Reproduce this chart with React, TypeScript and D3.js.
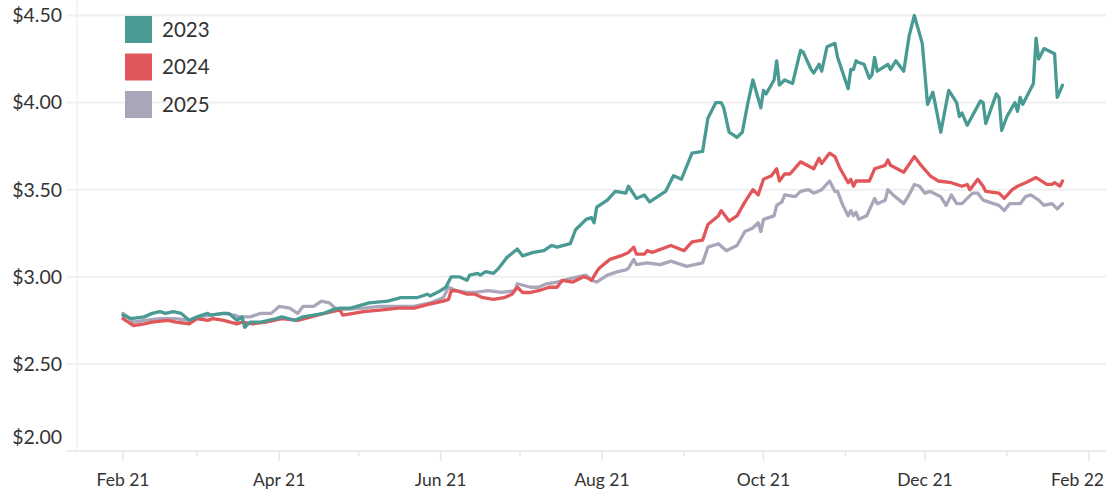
import React from "react";
import * as d3 from "d3";

// values: [date, price]
const series2023: [string, number][] = [
  ["2021-02-01", 2.78], ["2021-02-04", 2.76], ["2021-02-09", 2.77], ["2021-02-12", 2.79], ["2021-02-15", 2.8],
  ["2021-02-17", 2.79], ["2021-02-20", 2.8], ["2021-02-23", 2.79], ["2021-02-26", 2.75], ["2021-03-01", 2.77], ["2021-03-05", 2.79],
  ["2021-03-06", 2.78], ["2021-03-11", 2.79], ["2021-03-13", 2.79], ["2021-03-16", 2.75], ["2021-03-18", 2.77],
  ["2021-03-19", 2.71], ["2021-03-21", 2.74], ["2021-03-25", 2.74], ["2021-03-31", 2.76], ["2021-04-02", 2.77],
  ["2021-04-07", 2.75], ["2021-04-10", 2.77], ["2021-04-18", 2.79], ["2021-04-21", 2.81], ["2021-04-24", 2.82],
  ["2021-04-28", 2.82], ["2021-05-05", 2.85], ["2021-05-12", 2.86], ["2021-05-17", 2.88], ["2021-05-23", 2.88],
  ["2021-05-27", 2.9], ["2021-05-28", 2.89], ["2021-06-01", 2.92], ["2021-06-03", 2.94], ["2021-06-05", 3.0],
  ["2021-06-08", 3.0], ["2021-06-11", 2.98], ["2021-06-12", 3.01], ["2021-06-15", 3.02], ["2021-06-16", 3.01],
  ["2021-06-18", 3.03], ["2021-06-21", 3.02], ["2021-06-23", 3.05], ["2021-06-26", 3.11], ["2021-06-30", 3.16],
  ["2021-07-02", 3.12], ["2021-07-06", 3.14], ["2021-07-10", 3.15], ["2021-07-13", 3.18], ["2021-07-15", 3.17],
  ["2021-07-20", 3.19], ["2021-07-22", 3.27], ["2021-07-26", 3.33], ["2021-07-28", 3.34], ["2021-07-29", 3.31],
  ["2021-07-30", 3.4], ["2021-08-03", 3.44], ["2021-08-06", 3.49], ["2021-08-10", 3.48], ["2021-08-11", 3.52],
  ["2021-08-14", 3.45], ["2021-08-17", 3.47], ["2021-08-19", 3.43], ["2021-08-20", 3.44], ["2021-08-25", 3.49],
  ["2021-08-28", 3.58], ["2021-08-31", 3.56], ["2021-09-04", 3.71], ["2021-09-08", 3.72], ["2021-09-10", 3.91],
  ["2021-09-13", 4.0], ["2021-09-15", 4.0], ["2021-09-16", 3.97], ["2021-09-18", 3.83], ["2021-09-21", 3.8],
  ["2021-09-23", 3.83], ["2021-09-25", 3.99], ["2021-09-27", 4.13], ["2021-09-30", 3.97], ["2021-10-01", 4.07],
  ["2021-10-02", 4.05], ["2021-10-05", 4.13], ["2021-10-06", 4.24], ["2021-10-07", 4.1], ["2021-10-09", 4.13],
  ["2021-10-12", 4.11], ["2021-10-15", 4.3], ["2021-10-16", 4.29], ["2021-10-19", 4.19], ["2021-10-20", 4.17],
  ["2021-10-22", 4.22], ["2021-10-23", 4.18], ["2021-10-25", 4.32], ["2021-10-28", 4.34], ["2021-10-29", 4.26],
  ["2021-11-02", 4.08], ["2021-11-03", 4.19], ["2021-11-04", 4.19], ["2021-11-05", 4.24], ["2021-11-06", 4.23],
  ["2021-11-08", 4.22], ["2021-11-10", 4.14], ["2021-11-11", 4.16], ["2021-11-12", 4.26], ["2021-11-13", 4.18],
  ["2021-11-17", 4.22], ["2021-11-18", 4.19], ["2021-11-20", 4.24], ["2021-11-23", 4.18], ["2021-11-25", 4.38],
  ["2021-11-27", 4.5], ["2021-11-30", 4.34], ["2021-12-02", 3.99], ["2021-12-04", 4.06], ["2021-12-07", 3.83],
  ["2021-12-10", 4.07], ["2021-12-13", 4.0], ["2021-12-14", 3.92], ["2021-12-15", 3.94], ["2021-12-17", 3.87],
  ["2021-12-22", 4.01], ["2021-12-23", 4.0], ["2021-12-24", 3.88], ["2021-12-28", 4.05], ["2021-12-29", 4.03],
  ["2021-12-30", 3.84], ["2022-01-01", 3.92], ["2022-01-04", 4.0], ["2022-01-05", 3.95], ["2022-01-06", 4.03],
  ["2022-01-07", 3.99], ["2022-01-11", 4.11], ["2022-01-12", 4.37], ["2022-01-13", 4.25], ["2022-01-15", 4.31],
  ["2022-01-19", 4.28], ["2022-01-20", 4.03], ["2022-01-22", 4.1],
];

const series2024: [string, number][] = [
  ["2021-02-01", 2.76], ["2021-02-05", 2.72], ["2021-02-09", 2.73], ["2021-02-12", 2.74], ["2021-02-18", 2.75],
  ["2021-02-21", 2.74], ["2021-02-26", 2.73], ["2021-03-01", 2.76], ["2021-03-05", 2.75], ["2021-03-07", 2.76],
  ["2021-03-11", 2.75], ["2021-03-16", 2.73], ["2021-03-18", 2.74], ["2021-03-22", 2.73], ["2021-03-27", 2.74],
  ["2021-04-02", 2.76], ["2021-04-08", 2.75], ["2021-04-13", 2.77], ["2021-04-18", 2.79], ["2021-04-24", 2.81],
  ["2021-04-25", 2.78], ["2021-05-03", 2.8], ["2021-05-10", 2.81], ["2021-05-16", 2.82], ["2021-05-22", 2.82],
  ["2021-05-27", 2.84], ["2021-06-02", 2.86], ["2021-06-04", 2.87], ["2021-06-05", 2.92], ["2021-06-07", 2.92],
  ["2021-06-11", 2.9], ["2021-06-14", 2.9], ["2021-06-17", 2.88], ["2021-06-21", 2.87], ["2021-06-25", 2.88],
  ["2021-06-28", 2.9], ["2021-06-30", 2.94], ["2021-07-02", 2.91], ["2021-07-05", 2.91], ["2021-07-08", 2.92],
  ["2021-07-12", 2.94], ["2021-07-15", 2.94], ["2021-07-17", 2.98], ["2021-07-21", 2.97], ["2021-07-25", 3.0],
  ["2021-07-27", 2.99], ["2021-07-28", 2.98], ["2021-07-30", 3.03], ["2021-07-31", 3.05], ["2021-08-04", 3.1],
  ["2021-08-08", 3.12], ["2021-08-11", 3.14], ["2021-08-13", 3.17], ["2021-08-14", 3.13], ["2021-08-17", 3.13],
  ["2021-08-18", 3.15], ["2021-08-20", 3.14], ["2021-08-27", 3.18], ["2021-09-01", 3.15], ["2021-09-04", 3.2],
  ["2021-09-08", 3.21], ["2021-09-10", 3.3], ["2021-09-14", 3.35], ["2021-09-15", 3.38], ["2021-09-18", 3.32],
  ["2021-09-21", 3.35], ["2021-09-24", 3.43], ["2021-09-27", 3.5], ["2021-09-29", 3.47], ["2021-10-01", 3.56],
  ["2021-10-04", 3.58], ["2021-10-06", 3.62], ["2021-10-07", 3.55], ["2021-10-09", 3.59], ["2021-10-11", 3.59],
  ["2021-10-15", 3.66], ["2021-10-20", 3.62], ["2021-10-22", 3.68], ["2021-10-23", 3.65], ["2021-10-26", 3.71],
  ["2021-10-28", 3.69], ["2021-10-30", 3.62], ["2021-11-02", 3.54], ["2021-11-03", 3.56], ["2021-11-04", 3.52],
  ["2021-11-05", 3.55], ["2021-11-10", 3.55], ["2021-11-12", 3.62], ["2021-11-16", 3.64], ["2021-11-17", 3.67],
  ["2021-11-18", 3.64], ["2021-11-23", 3.6], ["2021-11-27", 3.69], ["2021-11-29", 3.65], ["2021-12-03", 3.58],
  ["2021-12-06", 3.55], ["2021-12-11", 3.54], ["2021-12-15", 3.52], ["2021-12-17", 3.53], ["2021-12-18", 3.5],
  ["2021-12-21", 3.56], ["2021-12-23", 3.52], ["2021-12-24", 3.49], ["2021-12-29", 3.48], ["2021-12-31", 3.45],
  ["2022-01-03", 3.5], ["2022-01-05", 3.52], ["2022-01-08", 3.54], ["2022-01-12", 3.57], ["2022-01-14", 3.55],
  ["2022-01-16", 3.53], ["2022-01-18", 3.53], ["2022-01-19", 3.54], ["2022-01-21", 3.52], ["2022-01-22", 3.55],
];

const series2025: [string, number][] = [
  ["2021-02-01", 2.79], ["2021-02-05", 2.74], ["2021-02-09", 2.75], ["2021-02-15", 2.76], ["2021-02-21", 2.76],
  ["2021-02-26", 2.75], ["2021-03-02", 2.77], ["2021-03-06", 2.78], ["2021-03-11", 2.79], ["2021-03-15", 2.78],
  ["2021-03-17", 2.77], ["2021-03-21", 2.77], ["2021-03-25", 2.79], ["2021-03-29", 2.79], ["2021-04-01", 2.83],
  ["2021-04-05", 2.82], ["2021-04-08", 2.79], ["2021-04-10", 2.83], ["2021-04-14", 2.83], ["2021-04-17", 2.86],
  ["2021-04-20", 2.85], ["2021-04-23", 2.81], ["2021-05-03", 2.82], ["2021-05-09", 2.83], ["2021-05-22", 2.83],
  ["2021-05-28", 2.85], ["2021-06-02", 2.88], ["2021-06-04", 2.94], ["2021-06-07", 2.92], ["2021-06-11", 2.91],
  ["2021-06-14", 2.91], ["2021-06-19", 2.92], ["2021-06-24", 2.91], ["2021-06-29", 2.92], ["2021-06-30", 2.96],
  ["2021-07-05", 2.94], ["2021-07-08", 2.94], ["2021-07-11", 2.96], ["2021-07-15", 2.97], ["2021-07-20", 2.99],
  ["2021-07-26", 3.01], ["2021-07-28", 2.98], ["2021-07-30", 2.97], ["2021-08-03", 3.01], ["2021-08-07", 3.03],
  ["2021-08-10", 3.04], ["2021-08-11", 3.05], ["2021-08-13", 3.1], ["2021-08-14", 3.07], ["2021-08-18", 3.08],
  ["2021-08-23", 3.07], ["2021-08-27", 3.09], ["2021-09-02", 3.06], ["2021-09-08", 3.08], ["2021-09-10", 3.17],
  ["2021-09-14", 3.19], ["2021-09-17", 3.15], ["2021-09-21", 3.18], ["2021-09-24", 3.26], ["2021-09-27", 3.28],
  ["2021-09-29", 3.31], ["2021-09-30", 3.26], ["2021-10-01", 3.33], ["2021-10-05", 3.35], ["2021-10-06", 3.41],
  ["2021-10-08", 3.43], ["2021-10-09", 3.47], ["2021-10-13", 3.46], ["2021-10-15", 3.49], ["2021-10-18", 3.5],
  ["2021-10-20", 3.48], ["2021-10-23", 3.5], ["2021-10-26", 3.55], ["2021-10-28", 3.49], ["2021-10-29", 3.49],
  ["2021-10-31", 3.41], ["2021-11-02", 3.35], ["2021-11-03", 3.38], ["2021-11-04", 3.35], ["2021-11-05", 3.37],
  ["2021-11-06", 3.33], ["2021-11-09", 3.35], ["2021-11-12", 3.45], ["2021-11-13", 3.42], ["2021-11-16", 3.44],
  ["2021-11-17", 3.5], ["2021-11-19", 3.47], ["2021-11-23", 3.42], ["2021-11-25", 3.47], ["2021-11-27", 3.53],
  ["2021-11-29", 3.52], ["2021-12-01", 3.48], ["2021-12-03", 3.49], ["2021-12-07", 3.46], ["2021-12-09", 3.41],
  ["2021-12-11", 3.47], ["2021-12-13", 3.42], ["2021-12-15", 3.42], ["2021-12-19", 3.48], ["2021-12-21", 3.48],
  ["2021-12-23", 3.44], ["2021-12-29", 3.41], ["2021-12-31", 3.38], ["2022-01-02", 3.42], ["2022-01-06", 3.42],
  ["2022-01-08", 3.46], ["2022-01-10", 3.47], ["2022-01-13", 3.44], ["2022-01-15", 3.41], ["2022-01-18", 3.42],
  ["2022-01-20", 3.39], ["2022-01-22", 3.42],
];

const legendNames = ["2023", "2024", "2025"];
const legendColors = ["#4a9a94", "#e15759", "#a9a6ba"];
const yTicks = [2, 2.5, 3, 3.5, 4, 4.5];

const W = 1106;
const H = 493;
const parse = d3.timeParse("%Y-%m-%d");

export default function App() {
  const x = d3
    .scaleTime()
    .domain([new Date(2021, 1, 1), new Date(2022, 1, 1)])
    .range([123, 1089]);
  const y = d3.scaleLinear().domain([2, 4.5]).range([451, 15.5]);

  const line = d3
    .line<[string, number]>()
    .x((d) => x(parse(d[0]) as Date))
    .y((d) => y(d[1]));

  const months = d3.timeMonth.range(new Date(2021, 1, 1), new Date(2022, 1, 2));
  const fmt = d3.timeFormat("%b %y");
  const all = [series2023, series2024, series2025];
  const font = "Lato, 'Open Sans', sans-serif";

  return (
    <div style={{ position: "fixed", left: 0, top: 0, background: "#fff" }}>
      <svg width={W} height={H} style={{ display: "block" }} fontFamily={font}>
        {/* gridlines */}
        {yTicks.slice(1).map((t) => (
          <line key={t} x1={67} x2={W} y1={y(t)} y2={y(t)} stroke="#efefef" strokeWidth={2} />
        ))}
        <line x1={77} x2={77} y1={0} y2={451} stroke="#f0f0f0" strokeWidth={1.5} />
        <line x1={67} x2={W} y1={451} y2={451} stroke="#ececec" strokeWidth={2} />

        {/* y labels */}
        {yTicks.map((t) => (
          <text
            key={t}
            x={62}
            y={Math.min(y(t), 437)}
            dy="0.35em"
            textAnchor="end"
            fontSize={19.5}
            fill="#333"
          >
            {"$" + t.toFixed(2)}
          </text>
        ))}

        {/* x ticks */}
        {months.map((m, i) => {
          const px = x(m);
          const major = i % 2 === 0;
          const last = i === months.length - 1;
          return (
            <g key={i}>
              <line x1={px} x2={px} y1={452} y2={major ? 461 : 456} stroke="#e6e6e6" strokeWidth={1.5} />
              {major && (
                <text
                  x={last ? W - 2 : px}
                  y={486}
                  textAnchor={last ? "end" : "middle"}
                  fontSize={17.5}
                  fill="#333"
                >
                  {fmt(m)}
                </text>
              )}
            </g>
          );
        })}

        {/* lines, 2025 at the bottom */}
        {[2, 1, 0].map((i) => (
          <path
            key={i}
            d={line(all[i]) || ""}
            fill="none"
            stroke={legendColors[i]}
            strokeWidth={3.3}
            strokeLinejoin="round"
            strokeLinecap="round"
          />
        ))}

        {/* legend */}
        {legendNames.map((n, i) => (
          <g key={n} transform={`translate(125, ${16 + i * 37.5})`}>
            <rect width={27} height={27} fill={legendColors[i]} />
            <text x={37} y={13.5} dy="0.35em" fontSize={20.5} fill="#333">
              {n}
            </text>
          </g>
        ))}
      </svg>
    </div>
  );
}
